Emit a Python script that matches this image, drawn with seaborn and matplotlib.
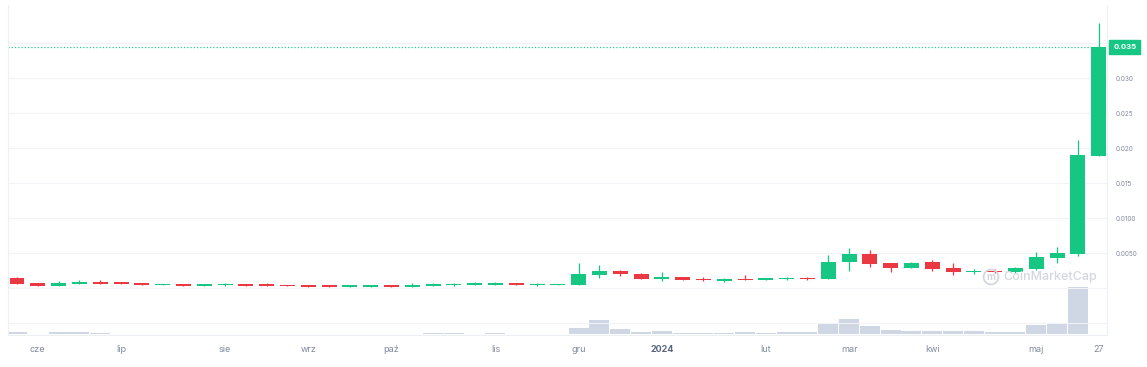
import matplotlib
matplotlib.use("Agg")
import numpy as np
import pandas as pd
import seaborn as sns
import matplotlib.pyplot as plt

# ---------------- data (weekly candles, 2023-05-29 .. 2024-05-27) ----------------
week_index = list(range(53))
open_ = [0.00143, 0.00071, 0.00033, 0.00057, 0.00090, 0.00081, 0.00071, 0.00047, 0.00061, 0.00033,
         0.00047, 0.00061, 0.00053, 0.00047, 0.00047, 0.00039, 0.00019, 0.00019, 0.00039, 0.00019,
         0.00033, 0.00043, 0.00047, 0.00047, 0.00071, 0.00047, 0.00047, 0.00043, 0.00186, 0.00247,
         0.00200, 0.00129, 0.00157, 0.00133, 0.00104, 0.00133, 0.00110, 0.00129, 0.00148, 0.00129,
         0.00367, 0.00481, 0.00352, 0.00290, 0.00371, 0.00290, 0.00229, 0.00247, 0.00224, 0.00271,
         0.00433, 0.00486, 0.01890]
high = [0.00157, 0.00071, 0.00100, 0.00114, 0.00114, 0.00090, 0.00071, 0.00061, 0.00061, 0.00061,
        0.00076, 0.00061, 0.00067, 0.00047, 0.00047, 0.00039, 0.00039, 0.00039, 0.00039, 0.00067,
        0.00076, 0.00076, 0.00090, 0.00081, 0.00071, 0.00076, 0.00061, 0.00357, 0.00329, 0.00262,
        0.00219, 0.00229, 0.00157, 0.00162, 0.00143, 0.00190, 0.00148, 0.00162, 0.00162, 0.00471,
        0.00567, 0.00543, 0.00352, 0.00371, 0.00395, 0.00362, 0.00267, 0.00276, 0.00295, 0.00514,
        0.00581, 0.02114, 0.03780]
low = [0.00057, 0.00033, 0.00033, 0.00057, 0.00061, 0.00053, 0.00047, 0.00039, 0.00033, 0.00033,
       0.00033, 0.00033, 0.00033, 0.00033, 0.00019, 0.00019, 0.00019, 0.00019, 0.00019, 0.00019,
       0.00033, 0.00029, 0.00047, 0.00047, 0.00047, 0.00033, 0.00047, 0.00043, 0.00138, 0.00176,
       0.00133, 0.00100, 0.00119, 0.00096, 0.00086, 0.00110, 0.00110, 0.00119, 0.00119, 0.00129,
       0.00248, 0.00305, 0.00233, 0.00281, 0.00248, 0.00186, 0.00200, 0.00209, 0.00214, 0.00257,
       0.00362, 0.00457, 0.01890]
close = [0.00057, 0.00033, 0.00076, 0.00090, 0.00061, 0.00053, 0.00047, 0.00061, 0.00033, 0.00061,
         0.00061, 0.00033, 0.00033, 0.00033, 0.00019, 0.00019, 0.00039, 0.00039, 0.00019, 0.00047,
         0.00061, 0.00061, 0.00071, 0.00076, 0.00047, 0.00061, 0.00061, 0.00196, 0.00247, 0.00196,
         0.00133, 0.00157, 0.00119, 0.00110, 0.00133, 0.00110, 0.00148, 0.00148, 0.00129, 0.00376,
         0.00481, 0.00348, 0.00290, 0.00362, 0.00276, 0.00224, 0.00247, 0.00229, 0.00281, 0.00443,
         0.00495, 0.01905, 0.03448]
volume = [2.0, 0.5, 2.0, 2.0, 1.0, 0.5, 0.3, 0.3, 0.3, 0.3,
          0.5, 0.5, 0.3, 0.3, 0.3, 0.3, 0.3, 0.3, 0.3, 0.5,
          1.0, 1.3, 0.5, 1.0, 0.5, 0.5, 0.5, 6.0, 14.0, 4.7,
          1.8, 2.7, 0.8, 0.8, 0.8, 1.8, 0.8, 1.8, 1.8, 11.5,
          14.7, 8.3, 4.0, 3.0, 3.0, 3.0, 2.7, 2.0, 2.0, 8.7,
          10.0, 47.3, 0.0]
tick_weeks = [1, 5, 10, 14, 18, 23, 27, 31, 36, 40, 44, 49, 52]
tick_labels = ['cze', 'lip', 'sie', 'wrz', 'paź', 'lis', 'gru', '2024', 'lut', 'mar', 'kwi', 'maj', '27']
price_ticks = [0.005, 0.010, 0.015, 0.020, 0.025, 0.030]
price_tick_labels = ['0.0050', '0.0100', '0.015', '0.020', '0.025', '0.030']
last_price_label = '0.035'
watermark = 'CoinMarketCap'

# ---------------- style ----------------
GREEN = '#16c784'
RED = '#ea3943'
VOL = '#cfd6e4'
GRID = '#f1f3f6'
TXT = '#808a9d'

sns.set_theme(style="white")
plt.rcParams['font.family'] = ['Inter', 'DejaVu Sans']

df = pd.DataFrame({'week': week_index, 'open': open_, 'high': high,
                   'low': low, 'close': close, 'volume': volume})
df['up'] = df['close'] >= df['open']
df['color'] = np.where(df['up'], GREEN, RED)
df['body_bottom'] = df[['open', 'close']].min(axis=1)
df['body_h'] = (df['close'] - df['open']).abs().clip(lower=0.00016)

W, H = 1147, 367
fig = plt.figure(figsize=(W / 100, H / 100), dpi=100)
rect = [8 / W, 32 / H, 1099 / W, 330 / H]
xlim = (-0.433, 52.4)

# volume axes (behind)
ax_vol = fig.add_axes(rect)
sns.barplot(data=df, x='week', y='volume', ax=ax_vol, color=VOL, saturation=1,
            width=0.96, linewidth=0)
ax_vol.set_xlim(*xlim)
ax_vol.set_ylim(-1, 329)
ax_vol.axis('off')

# price axes (front)
ax = fig.add_axes(rect)
ax.patch.set_alpha(0)
ax.vlines(df['week'], df['low'], df['high'], colors=df['color'], linewidth=0.9, zorder=2)
ax.bar(df['week'], df['body_h'], bottom=df['body_bottom'], width=0.72,
       color=df['color'], linewidth=0, zorder=3)
ax.set_xlim(*xlim)
ax.set_ylim(-0.006714, 0.04043)

# grid lines
for g in [-0.005, 0.0] + price_ticks + [0.035]:
    ax.axhline(g, color=GRID, linewidth=0.8, zorder=0)

# last price line + tag
last = df['close'].iloc[-1]
ax.axhline(last, color=GREEN, linewidth=0.9, linestyle=(0, (1, 1.6)), zorder=1, alpha=0.9)
ax.annotate(last_price_label, xy=(1.0, last), xycoords=('axes fraction', 'data'),
            xytext=(4.5, 0), textcoords='offset points', ha='left', va='center',
            fontsize=5.6, fontweight='bold', color='white',
            bbox=dict(boxstyle='square,pad=0.5', fc=GREEN, ec=GREEN), annotation_clip=False)

# axis ticks
ax.yaxis.tick_right()
ax.set_yticks(price_ticks)
ax.set_yticklabels(price_tick_labels)
ax.tick_params(axis='y', length=0, pad=6, labelsize=4.6, labelcolor=TXT)
ax.set_xticks(tick_weeks)
ax.set_xticklabels(tick_labels)
ax.tick_params(axis='x', length=2.5, width=0.6, color='#e6e9ee', pad=5,
               labelsize=6.5, labelcolor=TXT)
for lbl in ax.get_xticklabels():
    if lbl.get_text() == '2024':
        lbl.set_fontweight('bold')
        lbl.set_color('#58667e')

for side in ['left', 'right', 'bottom']:
    ax.spines[side].set_color('#eceff3')
    ax.spines[side].set_linewidth(0.8)
ax.spines['top'].set_visible(False)

# watermark
fig.text(1003 / W, 1 - 277 / H, watermark, fontsize=9, color='#d3d7df',
         ha='left', va='center', fontweight='medium')
fig.text(991 / W, 1 - 277 / H, 'm', fontsize=7, color='#d3d7df', ha='center', va='center',
         fontweight='bold',
         bbox=dict(boxstyle='circle,pad=0.25', fc='none', ec='#d3d7df', lw=1.3))

fig.savefig('out.png', dpi=100)
